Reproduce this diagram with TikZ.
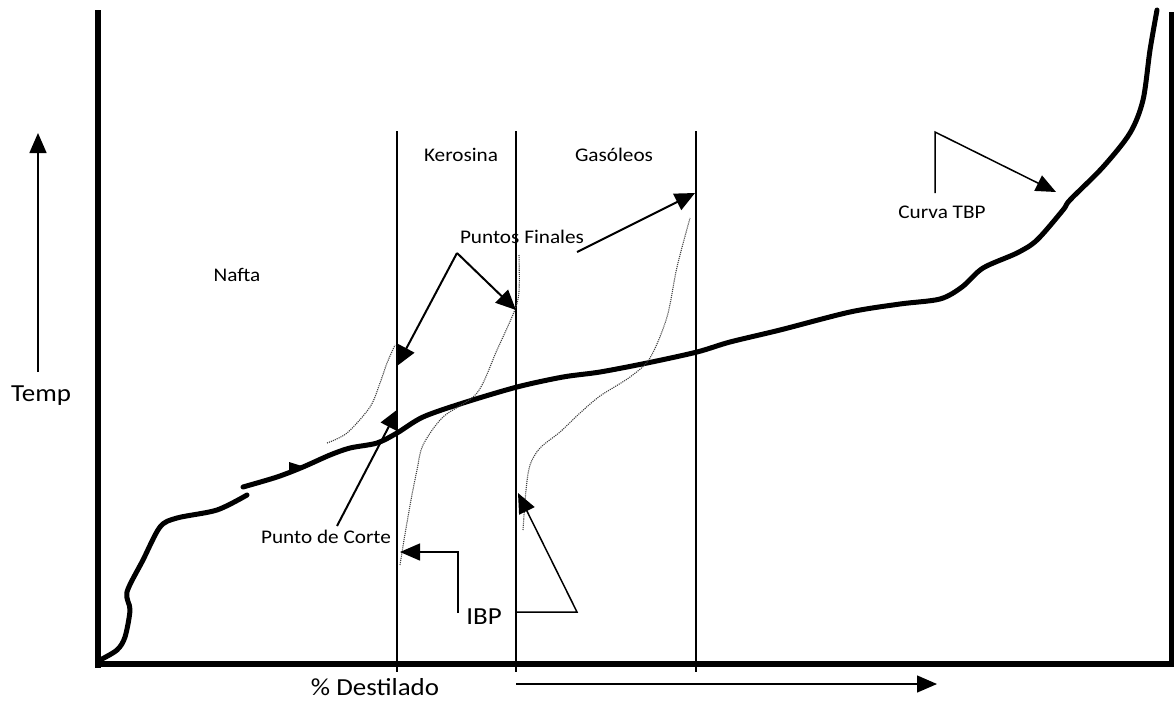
\documentclass[tikz,border=0pt]{standalone}
\usepackage{fontspec}
\setmainfont{Carlito}[FakeStretch=1.1]
\usetikzlibrary{arrows.meta}
\tikzset{
  eje/.style = {line width=6pt, black},
  linea/.style = {line width=1.3pt, black},
  tbp/.style = {line width=5pt, black, line join=round, line cap=round},
  astm/.style = {densely dotted, line width=1.1pt, black!75},
  flecha/.style = {line width=2pt, -{Triangle[length=20pt,width=18pt]}},
  flechita/.style = {line width=1.5pt, -{Triangle[length=20pt,width=17pt]}},
  etiq/.style = {font=\fontsize{19.3}{22}\selectfont, inner sep=0pt},% rotulos de zonas
  etiqg/.style = {font=\fontsize{24.5}{28}\selectfont, inner sep=0pt},% rotulos de ejes
}

\begin{document}
\begin{tikzpicture}[x=1pt,y=-1pt]
\useasboundingbox (0,0) rectangle (1174,702);
% ejes
\draw[eje] (98,10) -- (98,668);
\draw[eje] (95,664) -- (1174,664);
\draw[line width=5pt] (1171,12) -- (1171,664);
% cortes
\foreach \x in {397,516,696}
  \draw[linea] (\x,131) -- (\x,672);

% curva TBP
\draw[tbp] plot[smooth] coordinates {(100,660) (117,650) (125,637) (130,610)
  (127,592) (143,560) (160,527) (177,518) (217,510) (247,495)};
\draw[tbp] plot[smooth] coordinates {(243,487) (277,477) (303,467) (330,455)
  (350,448) (377,443) (397,433) (423,417) (463,403) (517,387) (563,377)
  (600,372) (647,363) (697,352) (730,342) (780,330) (850,312) (900,304)
  (940,299) (962,287) (983,268) (1017,253) (1037,240) (1063,210) (1070,200)
  (1103,167) (1130,133) (1143,100) (1150,50) (1157,10)};
\fill (289,462) -- (305,467) -- (289,475) -- cycle;

% curvas ASTM
\draw[astm] plot[smooth] coordinates {(327,443) (347,433) (370,407) (380,383)
  (387,363) (395,345)};
\draw[astm] plot[smooth] coordinates {(519,255) (519,292) (514,312) (497,350)
  (477,393) (443,417) (423,445) (417,470) (411,500) (404,540) (400,565)};
\draw[astm] plot[smooth] coordinates {(523,530) (526,490) (530,465) (540,448)
  (560,432) (580,413) (600,396) (630,377) (650,358) (667,317) (677,267)
  (690,218)};

% rotulos
\node[etiqg] (temp) at (41,396) {Temp};
\node[etiqg] (destilado) at (375,687) {\% Destilado};
\node[etiq] (nafta) at (237,275) {Nafta};
\node[etiq] (kerosina) at (461,155) {Kerosina};
\node[etiq] (gasoleos) at (614,155) {Gasóleos};
\node[etiq] (finales) at (522,237) {Puntos Finales};
\node[etiq] (tbplbl) at (942,212) {Curva TBP};
\node[etiq] (corte) at (326,537) {Punto de Corte};
\node[etiqg] (ibp) at (484,617) {IBP};

% flechas de ejes
\coordinate (tempBot) at (38,372);
\coordinate (tempTop) at (38,133);
\draw[flechita] (tempBot) -- (tempTop);
\coordinate (destIni) at (516,684);
\coordinate (destFin) at (937,684);
\draw[flechita, line width=1.3pt] (destIni) -- (destFin);

% puntos finales
\coordinate (pf) at (457,253);
\coordinate (pfN) at (397,366);
\coordinate (pfK) at (516,310);
\coordinate (pfG0) at (577,252);
\coordinate (pfG) at (695,193);
\draw[flecha] (pf) -- (pfN);
\draw[flecha] (pf) -- (pfK);
\draw[flecha] (pfG0) -- (pfG);

% punto de corte
\coordinate (pc0) at (337,526);
\coordinate (pc) at (398,409);
\draw[flecha] (pc0) -- (pc);

% IBP
\coordinate (ibpA) at (458,613);
\coordinate (ibpK) at (400,552);
\draw[flechita] (ibpA) |- (ibpK);
\coordinate (ibpB) at (517,612);
\coordinate (ibpC) at (577,612);
\coordinate (ibpG) at (518,493);
\draw[flechita] (ibpB) -- (ibpC) -- (ibpG);

% curva TBP (rotulo)
\coordinate (ct0) at (935,193);
\coordinate (ct1) at (935,132);
\coordinate (ct) at (1056,192);
\draw[flechita] (ct0) -- (ct1) -- (ct);
\end{tikzpicture}
\end{document}
